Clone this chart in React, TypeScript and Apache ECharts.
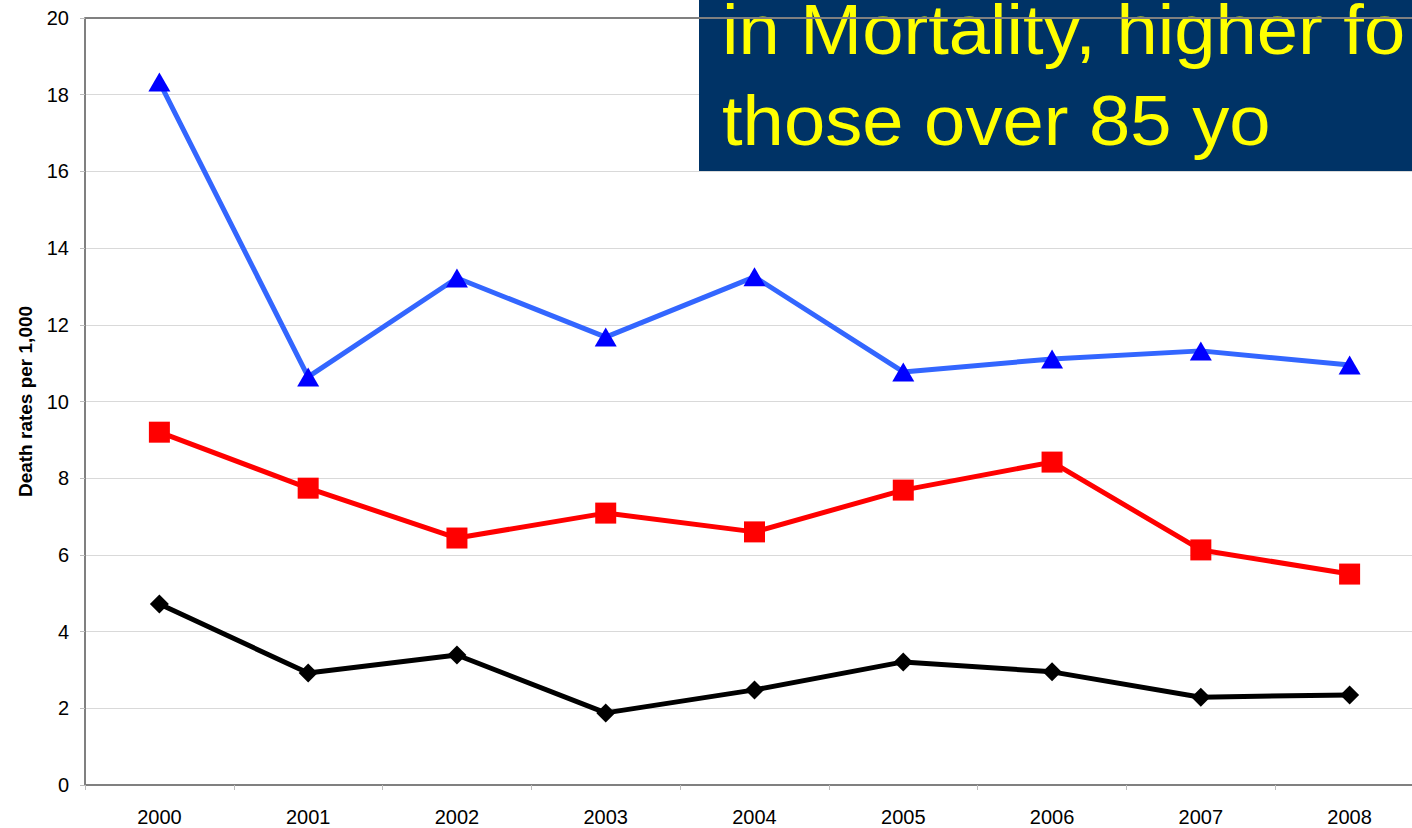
import React, { useEffect, useRef } from "react";
import * as echarts from "echarts";

const years = ["2000", "2001", "2002", "2003", "2004", "2005", "2006", "2007", "2008"];
const over85 = [18.33, 10.64, 13.22, 11.68, 13.25, 10.77, 11.11, 11.32, 10.95];
const age75to84 = [9.2, 7.74, 6.44, 7.09, 6.6, 7.69, 8.42, 6.13, 5.5];
const age65to74 = [4.72, 2.92, 3.39, 1.88, 2.48, 3.21, 2.95, 2.29, 2.35];
const yTicks = { min: 0, max: 20, interval: 2 };
const titleLines = ["in Mortality, higher fo", "those over 85 yo"];

export default function App() {
  const ref = useRef<HTMLDivElement>(null);
  useEffect(() => {
    if (!ref.current) return;
    const chart = echarts.init(ref.current, null, { renderer: "svg" });
    const font = "Liberation Sans, Arial, sans-serif";
    const titleFont = "70px 'Liberation Sans', Arial, sans-serif";
    chart.setOption({
      animation: false,
      backgroundColor: "#ffffff",
      grid: { left: 85, top: 18, width: 1339, height: 767, show: false },
      xAxis: {
        type: "category",
        data: years,
        boundaryGap: true,
        axisLine: { lineStyle: { color: "#808080", width: 2 } },
        axisTick: { show: true, length: 5, lineStyle: { color: "#bdbdbd" } },
        axisLabel: { color: "#000", fontSize: 20, fontFamily: font, margin: 22 },
        splitLine: { show: false },
      },
      yAxis: {
        type: "value",
        min: yTicks.min,
        max: yTicks.max,
        interval: yTicks.interval,
        name: "Death rates per 1,000",
        nameLocation: "middle",
        nameGap: 50,
        nameTextStyle: { color: "#000", fontSize: 19, fontWeight: "bold", fontFamily: font },
        axisLine: { show: true, lineStyle: { color: "#808080", width: 2 } },
        axisTick: { show: true, length: 5, lineStyle: { color: "#bdbdbd" } },
        axisLabel: { color: "#000", fontSize: 20, fontFamily: font, margin: 16 },
        splitLine: { lineStyle: { color: "#d9d9d9", width: 1 } },
      },
      series: [
        {
          name: "85+",
          type: "line",
          data: over85,
          symbol: "triangle",
          symbolSize: [22, 19],
          itemStyle: { color: "#0000ff" },
          lineStyle: { color: "#3366ff", width: 5 },
          z: 3,
        },
        {
          name: "75-84",
          type: "line",
          data: age75to84,
          symbol: "rect",
          symbolSize: 21,
          itemStyle: { color: "#ff0000" },
          lineStyle: { color: "#ff0000", width: 5 },
          z: 3,
        },
        {
          name: "65-74",
          type: "line",
          data: age65to74,
          symbol: "diamond",
          symbolSize: 19,
          itemStyle: { color: "#000000" },
          lineStyle: { color: "#000000", width: 5 },
          z: 3,
        },
      ],
      graphic: [
        {
          type: "rect",
          shape: { x: 699, y: 0, width: 740, height: 171 },
          style: { fill: "#003366" },
          z: 10,
        },
        {
          type: "text",
          x: 722,
          y: -5,
          scaleX: 1.06,
          style: {
            text: titleLines[0],
            fill: "#ffff00",
            font: titleFont,
            verticalAlign: "top",
          },
          z: 11,
        },
        {
          type: "text",
          x: 722,
          y: 86,
          scaleX: 1.06,
          style: {
            text: titleLines[1],
            fill: "#ffff00",
            font: titleFont,
            verticalAlign: "top",
          },
          z: 11,
        },
        {
          type: "line",
          shape: { x1: 85, y1: 18, x2: 1430, y2: 18 },
          style: { stroke: "#808080", lineWidth: 2 },
          z: 12,
        },
      ],
    });
    return () => chart.dispose();
  }, []);
  return (
    <div style={{ position: "fixed", left: 0, top: 0, width: 1412, height: 828, overflow: "hidden" }}>
      <div ref={ref} style={{ width: 1430, height: 828 }} />
    </div>
  );
}
